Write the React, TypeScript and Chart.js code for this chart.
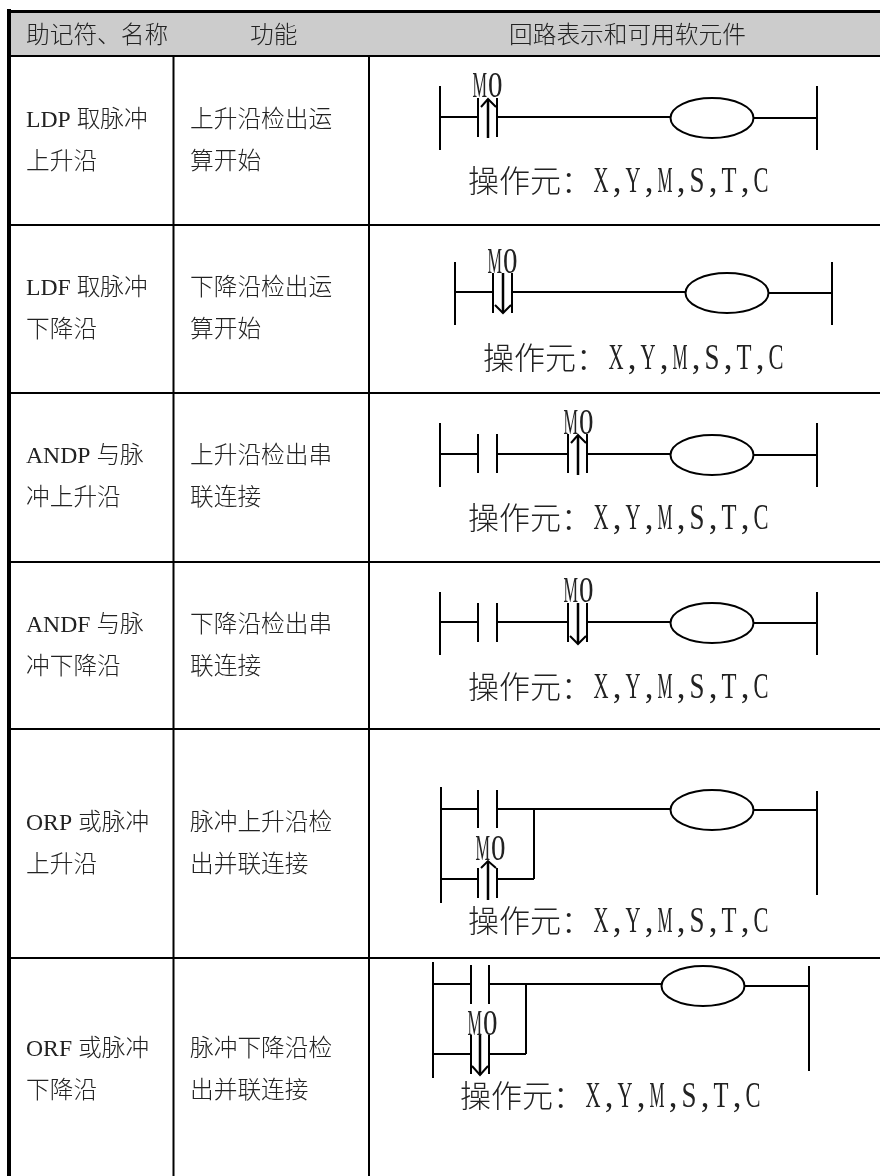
import React, { useEffect, useRef } from "react";
import { Chart, registerables } from "chart.js";

Chart.register(...registerables);

const WIDTH = 880;
const HEIGHT = 1176;

const headerTexts = ["助记符、名称", "功能", "回路表示和可用软元件"];
const headerXs = [26, 250, 509];
const nameLines = [
  ["LDP 取脉冲", "上升沿"],
  ["LDF 取脉冲", "下降沿"],
  ["ANDP 与脉", "冲上升沿"],
  ["ANDF 与脉", "冲下降沿"],
  ["ORP 或脉冲", "上升沿"],
  ["ORF 或脉冲", "下降沿"],
];
const funcLines = [
  ["上升沿检出运", "算开始"],
  ["下降沿检出运", "算开始"],
  ["上升沿检出串", "联连接"],
  ["下降沿检出串", "联连接"],
  ["脉冲上升沿检", "出并联连接"],
  ["脉冲下降沿检", "出并联连接"],
];
const rowBaselines = [
  [127, 169],
  [295, 337],
  [463, 505],
  [632, 674],
  [830, 872],
  [1056, 1098],
];
const operandPositions = [
  [468, 192],
  [483, 369],
  [468, 529],
  [468, 698],
  [468, 932],
  [460, 1107],
];
const tagPositions = [
  [472, 97],
  [487, 273],
  [563, 434],
  [563, 602],
  [475, 860],
  [467, 1035],
];
const coilCentres = [
  [712, 118],
  [727, 293],
  [712, 455],
  [712, 623],
  [712, 810],
  [703, 986],
];

const topRule = [[7, 11.5, 880, 11.5]];
const headerBand = [[11, 34, 880, 34]];
const leftRule = [[9, 9, 9, 1176]];
const thinRules = [
  [11, 56, 880, 56],
  [11, 225, 880, 225],
  [11, 393, 880, 393],
  [11, 562, 880, 562],
  [11, 729, 880, 729],
  [11, 958, 880, 958],
  [173.5, 13, 173.5, 1176],
  [369, 13, 369, 1176],
];

const wires = [
  // row 1
  [440, 86, 440, 150], [817, 86, 817, 150], [440, 117, 478, 117], [497, 117, 670, 117], [753, 118, 817, 118],
  [478, 98, 478, 137], [497, 98, 497, 137],
  // row 2
  [455, 262, 455, 325], [832, 262, 832, 325], [455, 292, 493, 292], [512, 292, 686, 292], [768, 293, 832, 293],
  [493, 273, 493, 313], [512, 273, 512, 313],
  // row 3
  [440, 423, 440, 487], [817, 423, 817, 487], [440, 454, 478, 454], [497, 454, 568, 454], [587, 454, 670, 454], [753, 455, 817, 455],
  [478, 434, 478, 473], [497, 434, 497, 473], [568, 434, 568, 473], [587, 434, 587, 473],
  // row 4
  [440, 592, 440, 655], [817, 592, 817, 655], [440, 622, 478, 622], [497, 622, 568, 622], [587, 622, 670, 622], [753, 623, 817, 623],
  [478, 603, 478, 642], [497, 603, 497, 642], [568, 603, 568, 642], [587, 603, 587, 642],
  // row 5
  [441, 787, 441, 903], [817, 791, 817, 895], [441, 809, 478, 809], [497, 809, 670, 809], [753, 810, 817, 810],
  [478, 790, 478, 828], [497, 790, 497, 828], [534, 809, 534, 879], [441, 879, 478, 879], [497, 879, 534, 879],
  [478, 868, 478, 898], [497, 868, 497, 898],
  // row 6
  [433, 962, 433, 1078], [809, 966, 809, 1071], [433, 984, 471, 984], [489, 984, 662, 984], [745, 986, 809, 986],
  [471, 965, 471, 1004], [489, 965, 489, 1004], [526, 984, 526, 1054], [433, 1054, 471, 1054], [489, 1054, 526, 1054],
  [471, 1035, 471, 1074], [489, 1035, 489, 1074],
];

const arrowShafts = [
  [488, 99, 488, 138],
  [503, 273, 503, 313],
  [578, 436, 578, 475],
  [578, 603, 578, 643],
  [488, 861, 488, 900],
  [480, 1035, 480, 1075],
];
const arrowHeads = [
  [[481, 107], [488, 99], [496, 107]],
  [[495, 305], [503, 313], [511, 305]],
  [[571, 443], [578, 435], [586, 443]],
  [[570, 636], [578, 644], [586, 636]],
  [[481, 868], [488, 861], [496, 868]],
  [[472, 1066], [480, 1075], [488, 1066]],
];

const segmentPoints = (segs: number[][]) =>
  segs.flatMap((s) => [{ x: s[0], y: s[1] }, { x: s[2], y: s[3] }, { x: null, y: null }]);
const polyPoints = (polys: number[][][]) =>
  polys.flatMap((p) => [...p.map((q) => ({ x: q[0], y: q[1] })), { x: null, y: null }]);

const lineSet = (data: any[], width: number, color = "#000") => ({
  type: "scatter",
  data,
  showLine: true,
  borderColor: color,
  borderWidth: width,
  pointRadius: 0,
  spanGaps: false,
  tension: 0,
  fill: false,
});

const CJK = '"Liberation Serif", "Noto Sans CJK SC"';
const TEXT_COLOR = "#222";

function makeCoilImage() {
  const c = document.createElement("canvas");
  c.width = 88;
  c.height = 44;
  const g = c.getContext("2d")!;
  g.strokeStyle = "#000";
  g.lineWidth = 2;
  g.beginPath();
  g.ellipse(44, 22, 41.5, 20, 0, 0, Math.PI * 2);
  g.stroke();
  return c;
}

function narrowText(ctx: CanvasRenderingContext2D, text: string, px: number, py: number, cell: number) {
  ctx.font = '35px "Liberation Serif"';
  [...text].forEach((ch, i) => {
    const w = ctx.measureText(ch).width;
    const cx = px + cell * (i + 0.5);
    ctx.save();
    ctx.translate(cx, py);
    const sx = ch === "," ? 1 : Math.min(1, (cell - 1) / w);
    ctx.scale(sx, 1);
    ctx.textAlign = "center";
    ctx.fillText(ch, 0, 0);
    ctx.restore();
  });
}

const textPlugin = {
  id: "tableText",
  afterDatasetsDraw(chart: any) {
    const { ctx, scales } = chart;
    const X = (v: number) => scales.x.getPixelForValue(v);
    const Y = (v: number) => scales.y.getPixelForValue(v);
    ctx.save();
    ctx.fillStyle = TEXT_COLOR;
    ctx.textBaseline = "alphabetic";
    ctx.textAlign = "left";
    ctx.font = `300 23.7px ${CJK}`;
    headerTexts.forEach((t, i) => ctx.fillText(t, X(headerXs[i]), Y(43)));
    rowBaselines.forEach((b, r) => {
      nameLines[r].forEach((t, l) => ctx.fillText(t, X(26), Y(b[l])));
      funcLines[r].forEach((t, l) => ctx.fillText(t, X(190), Y(b[l])));
    });
    operandPositions.forEach(([x, y]) => {
      ctx.font = `300 31px ${CJK}`;
      ctx.fillText("操作元：", X(x), Y(y));
      narrowText(ctx, "X,Y,M,S,T,C", X(x + 125), Y(y), 16);
    });
    tagPositions.forEach(([x, y]) => narrowText(ctx, "M0", X(x), Y(y), 15.5));
    ctx.restore();
  },
};

export default function App() {
  const ref = useRef<HTMLCanvasElement>(null);
  useEffect(() => {
    const coil = makeCoilImage();
    const chart = new Chart(ref.current!, {
      type: "scatter",
      data: {
        datasets: [
          lineSet(segmentPoints(headerBand), 42, "#cccccc"),
          lineSet(segmentPoints(topRule), 3),
          lineSet(segmentPoints(leftRule), 4),
          lineSet(segmentPoints(thinRules), 2),
          lineSet(segmentPoints(wires), 2),
          lineSet(segmentPoints(arrowShafts), 2.5),
          lineSet(polyPoints(arrowHeads), 2),
          {
            type: "scatter",
            data: coilCentres.map(([x, y]) => ({ x, y })),
            pointStyle: coil,
            showLine: false,
          },
        ] as any,
      },
      options: {
        animation: false,
        responsive: false,
        devicePixelRatio: 1,
        layout: { padding: 0, autoPadding: false },
        plugins: { legend: { display: false }, tooltip: { enabled: false } },
        events: [],
        scales: {
          x: { type: "linear", min: 0, max: WIDTH, display: false },
          y: { type: "linear", min: 0, max: HEIGHT, reverse: true, display: false },
        },
      },
      plugins: [textPlugin],
    } as any);
    return () => chart.destroy();
  }, []);
  return (
    <canvas
      ref={ref}
      width={WIDTH}
      height={HEIGHT}
      style={{ position: "absolute", left: 0, top: 0, display: "block", background: "#fff" }}
    />
  );
}
